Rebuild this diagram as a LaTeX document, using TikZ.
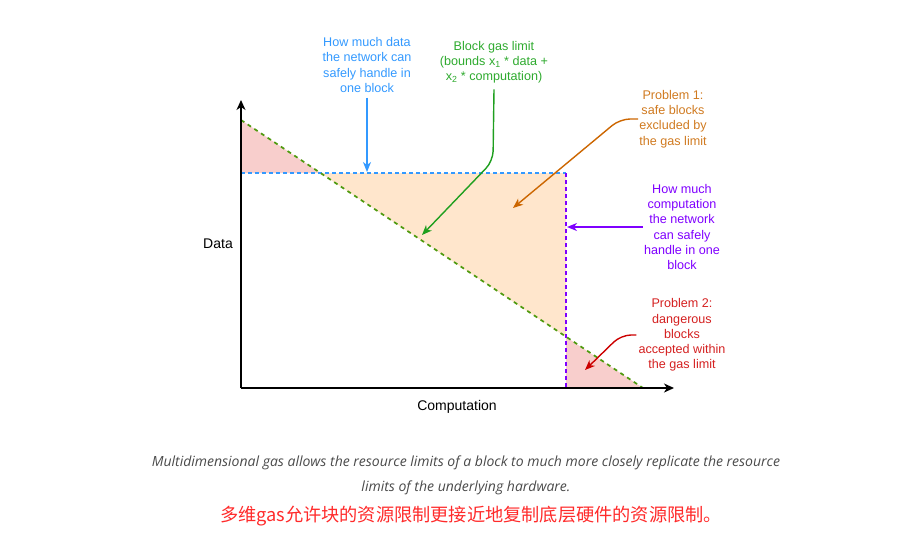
\documentclass[tikz,border=0pt]{standalone}
\usepackage{fontspec}
\setmainfont{Liberation Sans}
\newfontfamily\capfont{Open Sans}
\newfontfamily\cjk{Noto Sans CJK SC}
\usetikzlibrary{arrows.meta,positioning}

\definecolor{datablue}{HTML}{3399FF}
\definecolor{gasgreen}{HTML}{1F9F1F}
\definecolor{gastext}{HTML}{2EAA2E}
\definecolor{limitgreen}{HTML}{4F9A0E}
\definecolor{pone}{HTML}{CC6600}
\definecolor{ponetext}{HTML}{D07A20}
\definecolor{comppurple}{HTML}{7F00FF}
\definecolor{ptwo}{HTML}{CC0000}
\definecolor{ptwotext}{HTML}{D42020}
\definecolor{pinkfill}{HTML}{F8CECC}
\definecolor{orangefill}{HTML}{FFE6CC}
\definecolor{capgray}{HTML}{4A4A4A}
\definecolor{cjkred}{HTML}{FF2A2A}

\tikzset{
  note/.style={align=center,inner sep=0pt,font=\fontsize{12.6}{15.2}\selectfont},
  pointer/.style={-{Stealth[length=10pt,width=8pt,inset=3pt]},line width=1.4pt,rounded corners=10pt},
  axis/.style={-{Stealth[length=10pt,width=9pt,inset=3pt]},line width=1.4pt,black},
  axislabel/.style={font=\fontsize{14}{16}\selectfont},
  limit/.style={line width=1.8pt,dash pattern=on 4pt off 3pt},
  caption/.style={font=\capfont\itshape\fontsize{14}{16}\selectfont,text=capgray}
}

\begin{document}
\begin{tikzpicture}[x=1pt,y=-1pt]
\useasboundingbox (0,0) rectangle (921,546);

% corners of the regions
\coordinate (top) at (241,120);
\coordinate (o) at (241,388);
\coordinate (dl) at (241,173);
\coordinate (cross) at (320.5,173);
\coordinate (corner) at (566,173);
\coordinate (cut) at (566,337);
\coordinate (cb) at (566,388);
\coordinate (end) at (643,388);

\fill[pinkfill] (top) -- (dl) -- (cross) -- cycle;
\fill[orangefill] (cross) -- (corner) -- (cut) -- cycle;
\fill[pinkfill] (cut) -- (cb) -- (end) -- cycle;

\draw[limit,datablue] (dl) -- (corner);
\draw[limit,comppurple] (corner) -- (cb);
\draw[line width=1.7pt,limitgreen,dash pattern=on 4pt off 4pt] (top) -- (end);

% axes
\coordinate (ytip) at (241,100);
\coordinate (xtip) at (674,388);
\draw[axis] (o) -- (ytip);
\draw[axis] (o) -- (xtip);
\node[axislabel] (ylbl) at (218,244) {Data};
\node[axislabel] (xlbl) at (457,407) {Computation};

% labels
\node[note,text=datablue] (datanote) at (367,65) {How much data\\the network can\\safely handle in\\one block};
\node[note,text=gastext] (gasnote) at (494,62) {Block gas limit\\(bounds x\textsubscript{1} * data +\\x\textsubscript{2} * computation)};
\node[note,text=ponetext] (pone) at (673,119) {Problem 1:\\safe blocks\\excluded by\\the gas limit};
\node[note,text=comppurple] (compnote) at (682,227) {How much\\computation\\the network\\can safely\\handle in one\\block};
\node[note,text=ptwotext] (ptwo) at (682,335) {Problem 2:\\dangerous\\blocks\\accepted within\\the gas limit};

% pointers
\coordinate (dataend) at (367,172);
\coordinate (gasend) at (422,235);
\coordinate (oneend) at (513,208);
\coordinate (compend) at (567,227);
\coordinate (twoend) at (585,370);
\draw[pointer,datablue] ([yshift=-5pt]datanote.south) -- (dataend);
\draw[pointer,gasgreen] ([yshift=-6pt]gasnote.south) -- (493,161) -- (gasend);
\draw[pointer,pone] ([xshift=-1pt]pone.west) -- (620,119) -- (oneend);
\draw[pointer,comppurple] ([xshift=-1pt]compnote.west) -- (compend);
\draw[pointer,ptwo] ([xshift=-2pt]ptwo.west) -- (621,335) -- (twoend);

% caption
\node[caption] (cap1) at (466,463)
  {Multidimensional gas allows the resource limits of a block to much more closely replicate the resource};
\node[caption] (cap2) at (466,488) {limits of the underlying hardware.};
\node[font=\cjk\fontsize{18.2}{20}\selectfont,text=cjkred] (cjkline) at (471,516)
  {多维gas允许块的资源限制更接近地复制底层硬件的资源限制。};
\end{tikzpicture}
\end{document}
